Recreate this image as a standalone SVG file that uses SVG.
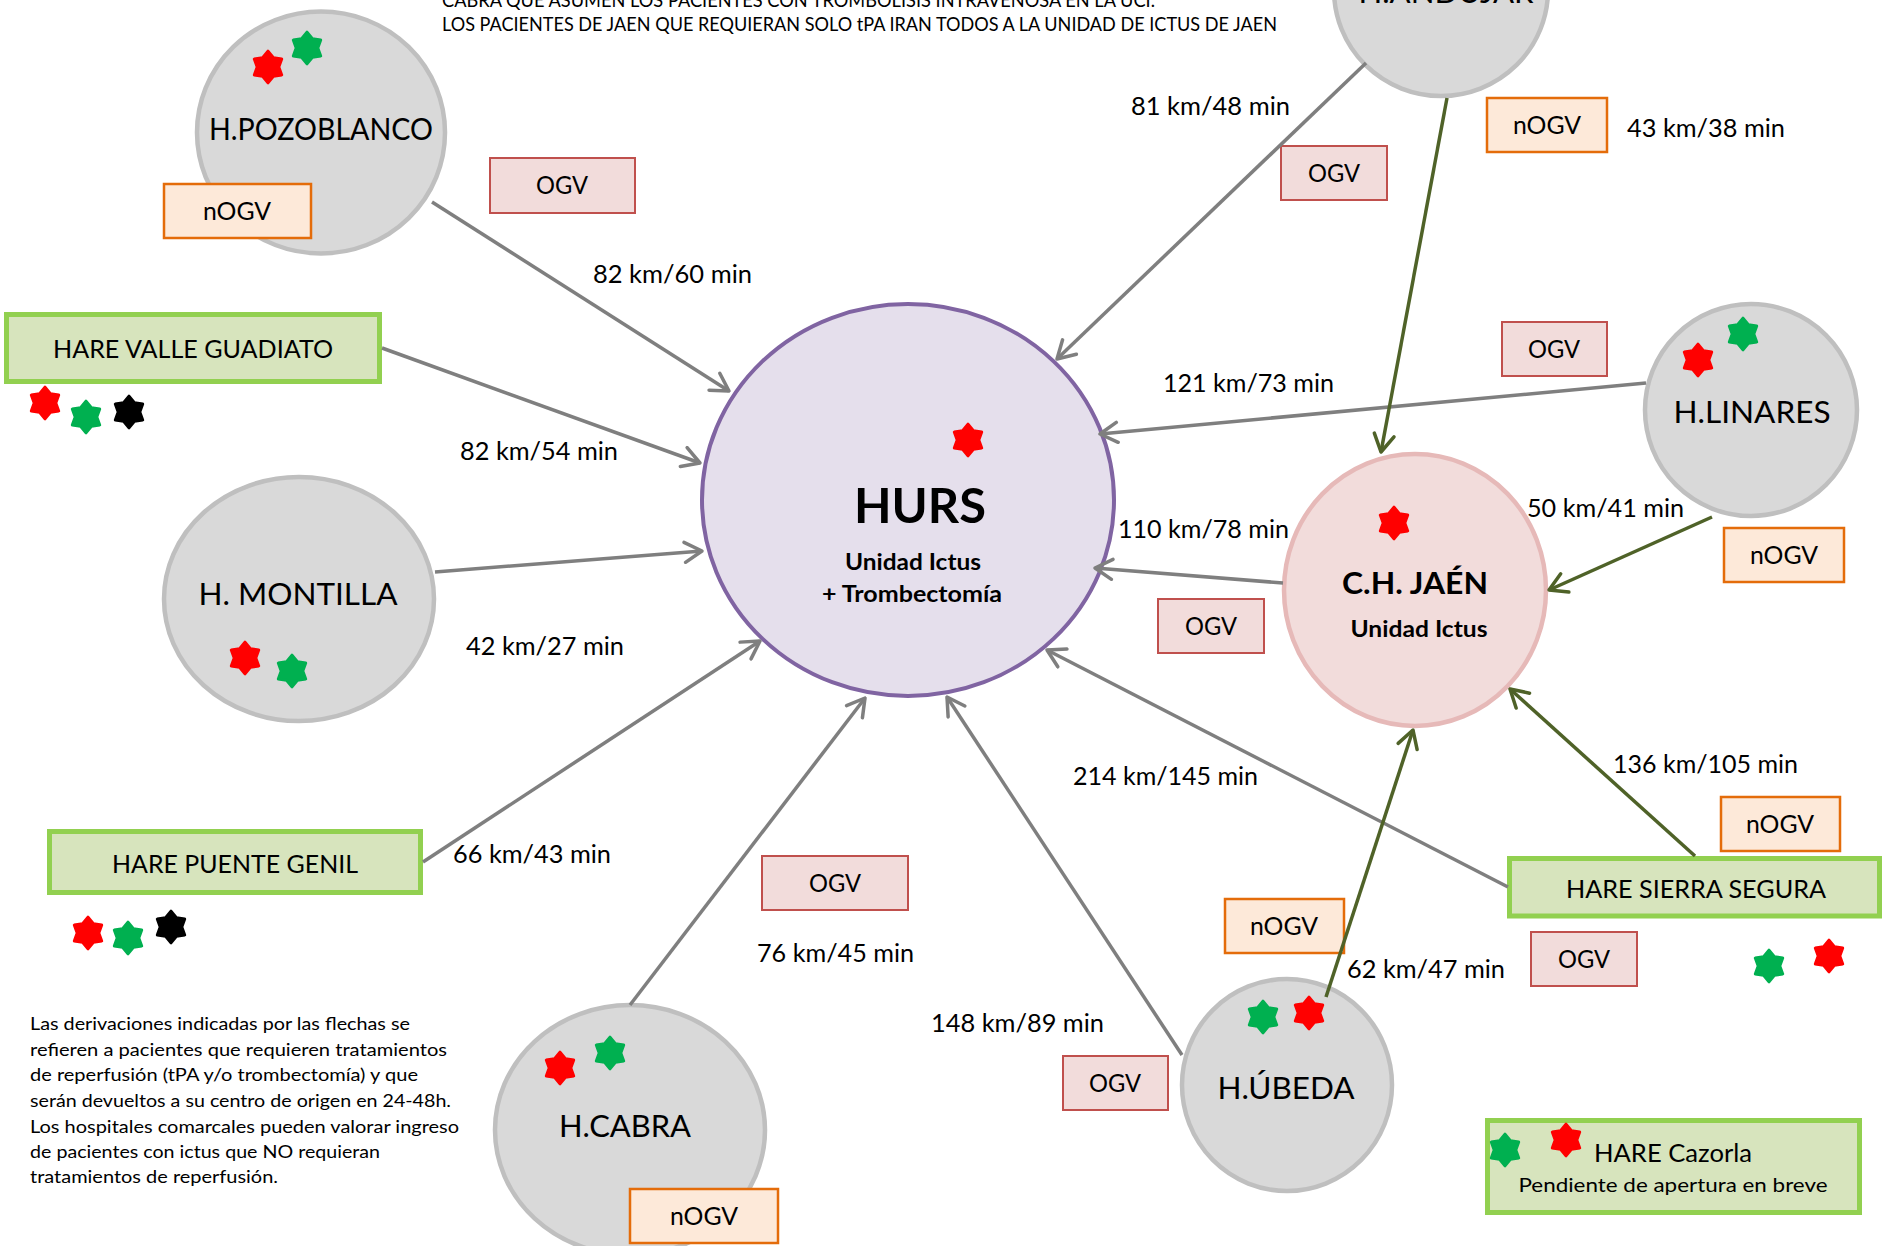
<svg xmlns="http://www.w3.org/2000/svg" xmlns:xlink="http://www.w3.org/1999/xlink" width="1883" height="1246" viewBox="0 0 1883 1246">
<defs>
<style>
.t{font-family:Lato,"Open Sans","Liberation Sans",sans-serif;fill:#000}
.m{text-anchor:middle}
.nm{font-size:30.5px}
.dist{font-size:25px}
.box{font-size:25px}
.hare{font-size:25.5px}
.note{font-size:17.5px}
.top{font-size:18.5px}
.bold{font-weight:bold}
.gray{fill:#d9d9d9;stroke:#bfbfbf;stroke-width:4.5}
.ogv{fill:#f2dcdb;stroke:#c0504d;stroke-width:2}
.nogv{fill:#fde9d9;stroke:#e46c0a;stroke-width:2.5}
.hr{fill:#d7e4bd;stroke:#92d050;stroke-width:5}
.cg{fill:none;stroke:#7f7f7f;stroke-width:3.5;marker-end:url(#ag)}
.cv{fill:none;stroke:#4f6228;stroke-width:3.5;marker-end:url(#av)}
.sr{fill:#ff0000;stroke:#ff0000}
.sg{fill:#00b050;stroke:#00b050}
.sk{fill:#000;stroke:#000}
</style>
<path id="star" stroke-width="3" stroke-linejoin="round" d="M0,-15.8 L5.4,-9.3 L13.7,-7.9 L10.8,0 L13.7,7.9 L5.4,9.3 L0,15.8 L-5.4,9.3 L-13.7,7.9 L-10.8,0 L-13.7,-7.9 L-5.4,-9.3 Z"/>
<marker id="ag" viewBox="0 0 24 24" refX="22" refY="12" markerWidth="24" markerHeight="24" markerUnits="userSpaceOnUse" orient="auto">
<path d="M4.7,2 L22,12 L4.7,22" fill="none" stroke="#7f7f7f" stroke-width="3.5" stroke-linecap="round" stroke-linejoin="round"/>
</marker>
<marker id="av" viewBox="0 0 24 24" refX="22" refY="12" markerWidth="24" markerHeight="24" markerUnits="userSpaceOnUse" orient="auto">
<path d="M4.7,2 L22,12 L4.7,22" fill="none" stroke="#4f6228" stroke-width="3.5" stroke-linecap="round" stroke-linejoin="round"/>
</marker>
</defs>
<rect x="0" y="0" width="1883" height="1246" fill="#ffffff"/>

<g id="header">
<text class="t top" x="442" y="7" textLength="713" lengthAdjust="spacingAndGlyphs">CABRA QUE ASUMEN LOS PACIENTES CON TROMBOLISIS INTRAVENOSA EN LA UCI.</text>
<text class="t top" x="442" y="31" textLength="835" lengthAdjust="spacingAndGlyphs">LOS PACIENTES DE JAEN QUE REQUIERAN SOLO tPA IRAN TODOS A LA UNIDAD DE ICTUS DE JAEN</text>
</g>

<g id="hurs">
<ellipse cx="908" cy="500" rx="206" ry="196" fill="#e5dfec" stroke="#8064a2" stroke-width="4"/>
<use href="#star" class="sr" x="968" y="440"/>
<text class="t m bold" x="920" y="523" font-size="48" textLength="132" lengthAdjust="spacingAndGlyphs">HURS</text>
<text class="t m bold" x="913" y="570" font-size="23.5" textLength="136" lengthAdjust="spacingAndGlyphs">Unidad Ictus</text>
<text class="t m bold" x="912" y="602" font-size="23.5" textLength="180" lengthAdjust="spacingAndGlyphs">+ Trombectomía</text>
</g>

<g id="chjaen">
<ellipse cx="1415" cy="590" rx="131" ry="136" fill="#f2dcdb" stroke="#e6b9b8" stroke-width="4.5"/>
<use href="#star" class="sr" x="1394" y="523"/>
<text class="t m bold" x="1415" y="594" font-size="31" textLength="146" lengthAdjust="spacingAndGlyphs">C.H. JAÉN</text>
<text class="t m bold" x="1419" y="637" font-size="23.5" textLength="137" lengthAdjust="spacingAndGlyphs">Unidad Ictus</text>
</g>

<g id="pozoblanco">
<ellipse class="gray" cx="321" cy="132.5" rx="124" ry="121"/>
<use href="#star" class="sr" x="268" y="67"/>
<use href="#star" class="sg" x="307" y="48"/>
<text class="t m nm" x="321" y="140" textLength="224" lengthAdjust="spacingAndGlyphs">H.POZOBLANCO</text>
</g>

<g id="andujar">
<ellipse class="gray" cx="1441" cy="-10" rx="107" ry="106"/>
<text class="t m nm" x="1446" y="3" textLength="175" lengthAdjust="spacingAndGlyphs">H.ANDÚJAR</text>
</g>

<g id="linares">
<ellipse class="gray" cx="1751" cy="410" rx="106" ry="106"/>
<use href="#star" class="sr" x="1698" y="360"/>
<use href="#star" class="sg" x="1743" y="334"/>
<text class="t m nm" x="1752" y="423" textLength="157" lengthAdjust="spacingAndGlyphs">H.LINARES</text>
</g>

<g id="montilla">
<ellipse class="gray" cx="299" cy="599" rx="135" ry="122"/>
<use href="#star" class="sr" x="245" y="658"/>
<use href="#star" class="sg" x="292" y="671"/>
<text class="t m nm" x="298" y="605" textLength="199" lengthAdjust="spacingAndGlyphs">H. MONTILLA</text>
</g>

<g id="cabra">
<ellipse class="gray" cx="630" cy="1130" rx="135" ry="125"/>
<use href="#star" class="sr" x="560" y="1068"/>
<use href="#star" class="sg" x="610" y="1053"/>
<text class="t m nm" x="625" y="1137" textLength="132" lengthAdjust="spacingAndGlyphs">H.CABRA</text>
</g>

<g id="ubeda">
<ellipse class="gray" cx="1287" cy="1085" rx="105" ry="106"/>
<use href="#star" class="sg" x="1263" y="1017"/>
<use href="#star" class="sr" x="1309" y="1013"/>
<text class="t m nm" x="1286" y="1099" textLength="137" lengthAdjust="spacingAndGlyphs">H.ÚBEDA</text>
</g>

<g id="valle-guadiato">
<rect class="hr" x="6.5" y="314.5" width="373" height="67"/>
<text class="t m hare" x="193" y="358" textLength="280" lengthAdjust="spacingAndGlyphs">HARE VALLE GUADIATO</text>
<use href="#star" class="sr" x="45" y="403"/>
<use href="#star" class="sg" x="86" y="417"/>
<use href="#star" class="sk" x="129" y="412"/>
</g>

<g id="puente-genil">
<rect class="hr" x="49.5" y="831.5" width="371" height="61"/>
<text class="t m hare" x="235" y="873" textLength="246" lengthAdjust="spacingAndGlyphs">HARE PUENTE GENIL</text>
<use href="#star" class="sr" x="88" y="933"/>
<use href="#star" class="sg" x="128" y="938"/>
<use href="#star" class="sk" x="171" y="927"/>
</g>

<g id="sierra-segura">
<rect class="hr" x="1509.5" y="858.5" width="370" height="57.5"/>
<text class="t m hare" x="1696" y="898" textLength="260" lengthAdjust="spacingAndGlyphs">HARE SIERRA SEGURA</text>
<use href="#star" class="sg" x="1769" y="966"/>
<use href="#star" class="sr" x="1829" y="956"/>
</g>

<g id="cazorla">
<rect class="hr" x="1487.5" y="1120.5" width="372" height="92"/>
<use href="#star" class="sg" x="1505" y="1150"/>
<use href="#star" class="sr" x="1566" y="1140"/>
<text class="t hare" x="1594" y="1162" textLength="158" lengthAdjust="spacingAndGlyphs">HARE Cazorla</text>
<text class="t m" x="1673" y="1192" font-size="20" textLength="309" lengthAdjust="spacingAndGlyphs">Pendiente de apertura en breve</text>
</g>

<g id="ogv-labels">
<rect class="ogv" x="490" y="158" width="145" height="55"/>
<text class="t m box" x="562" y="194" textLength="52" lengthAdjust="spacingAndGlyphs">OGV</text>
<rect class="ogv" x="1281" y="146" width="106" height="54"/>
<text class="t m box" x="1334" y="182" textLength="52" lengthAdjust="spacingAndGlyphs">OGV</text>
<rect class="ogv" x="1502" y="322" width="105" height="54"/>
<text class="t m box" x="1554" y="358" textLength="52" lengthAdjust="spacingAndGlyphs">OGV</text>
<rect class="ogv" x="1158" y="599" width="106" height="54"/>
<text class="t m box" x="1211" y="635" textLength="52" lengthAdjust="spacingAndGlyphs">OGV</text>
<rect class="ogv" x="762" y="856" width="146" height="54"/>
<text class="t m box" x="835" y="892" textLength="52" lengthAdjust="spacingAndGlyphs">OGV</text>
<rect class="ogv" x="1063" y="1056" width="105" height="54"/>
<text class="t m box" x="1115" y="1092" textLength="52" lengthAdjust="spacingAndGlyphs">OGV</text>
<rect class="ogv" x="1531" y="932" width="106" height="54"/>
<text class="t m box" x="1584" y="968" textLength="52" lengthAdjust="spacingAndGlyphs">OGV</text>
</g>

<g id="nogv-labels">
<rect class="nogv" x="164" y="184" width="147" height="54"/>
<text class="t m box" x="237" y="220" textLength="68" lengthAdjust="spacingAndGlyphs">nOGV</text>
<rect class="nogv" x="1487" y="98" width="120" height="54"/>
<text class="t m box" x="1547" y="134" textLength="68" lengthAdjust="spacingAndGlyphs">nOGV</text>
<rect class="nogv" x="1724" y="528" width="120" height="54"/>
<text class="t m box" x="1784" y="564" textLength="68" lengthAdjust="spacingAndGlyphs">nOGV</text>
<rect class="nogv" x="1225" y="899" width="119" height="54"/>
<text class="t m box" x="1284" y="935" textLength="68" lengthAdjust="spacingAndGlyphs">nOGV</text>
<rect class="nogv" x="1721" y="797" width="119" height="54"/>
<text class="t m box" x="1780" y="833" textLength="68" lengthAdjust="spacingAndGlyphs">nOGV</text>
<rect class="nogv" x="630" y="1189" width="148" height="54"/>
<text class="t m box" x="704" y="1225" textLength="68" lengthAdjust="spacingAndGlyphs">nOGV</text>
</g>

<g id="connectors">
<line class="cg" x1="432" y1="202" x2="729" y2="391"/>
<line class="cg" x1="382" y1="348" x2="700" y2="463"/>
<line class="cg" x1="435" y1="572" x2="702" y2="551"/>
<line class="cg" x1="423" y1="862" x2="760" y2="641"/>
<line class="cg" x1="630" y1="1005" x2="865" y2="698"/>
<line class="cg" x1="1182" y1="1055" x2="947" y2="697"/>
<line class="cg" x1="1508" y1="887" x2="1047" y2="650"/>
<line class="cg" x1="1283" y1="583" x2="1095" y2="568"/>
<line class="cg" x1="1646" y1="383" x2="1100" y2="434"/>
<line class="cg" x1="1366" y1="63" x2="1057" y2="359"/>
<line class="cv" x1="1447" y1="98" x2="1381" y2="452"/>
<line class="cv" x1="1712" y1="517" x2="1549" y2="590"/>
<line class="cv" x1="1326" y1="997" x2="1413" y2="730"/>
<line class="cv" x1="1695" y1="856" x2="1510" y2="689"/>
</g>

<g id="distances">
<text class="t dist" x="593" y="283" textLength="159" lengthAdjust="spacingAndGlyphs">82 km/60 min</text>
<text class="t dist" x="460" y="460" textLength="158" lengthAdjust="spacingAndGlyphs">82 km/54 min</text>
<text class="t dist" x="466" y="655" textLength="158" lengthAdjust="spacingAndGlyphs">42 km/27 min</text>
<text class="t dist" x="453" y="863" textLength="158" lengthAdjust="spacingAndGlyphs">66 km/43 min</text>
<text class="t dist" x="757" y="962" textLength="157" lengthAdjust="spacingAndGlyphs">76 km/45 min</text>
<text class="t dist" x="931" y="1032" textLength="173" lengthAdjust="spacingAndGlyphs">148 km/89 min</text>
<text class="t dist" x="1073" y="785" textLength="185" lengthAdjust="spacingAndGlyphs">214 km/145 min</text>
<text class="t dist" x="1347" y="978" textLength="158" lengthAdjust="spacingAndGlyphs">62 km/47 min</text>
<text class="t dist" x="1613" y="773" textLength="185" lengthAdjust="spacingAndGlyphs">136 km/105 min</text>
<text class="t dist" x="1118" y="538" textLength="171" lengthAdjust="spacingAndGlyphs">110 km/78 min</text>
<text class="t dist" x="1163" y="392" textLength="171" lengthAdjust="spacingAndGlyphs">121 km/73 min</text>
<text class="t dist" x="1527" y="517" textLength="157" lengthAdjust="spacingAndGlyphs">50 km/41 min</text>
<text class="t dist" x="1131" y="115" textLength="159" lengthAdjust="spacingAndGlyphs">81 km/48 min</text>
<text class="t dist" x="1627" y="137" textLength="158" lengthAdjust="spacingAndGlyphs">43 km/38 min</text>
</g>

<g id="note">
<text class="t note" x="30" y="1030" textLength="380" lengthAdjust="spacingAndGlyphs">Las derivaciones indicadas por las flechas se</text>
<text class="t note" x="30" y="1055.5" textLength="417" lengthAdjust="spacingAndGlyphs">refieren a pacientes que requieren tratamientos</text>
<text class="t note" x="30" y="1081" textLength="388" lengthAdjust="spacingAndGlyphs">de reperfusión (tPA y/o trombectomía) y que</text>
<text class="t note" x="30" y="1107" textLength="421" lengthAdjust="spacingAndGlyphs">serán devueltos a su centro de origen en 24-48h.</text>
<text class="t note" x="30" y="1133" textLength="429" lengthAdjust="spacingAndGlyphs">Los hospitales comarcales pueden valorar ingreso</text>
<text class="t note" x="30" y="1158" textLength="350" lengthAdjust="spacingAndGlyphs">de pacientes con ictus que NO requieran</text>
<text class="t note" x="30" y="1183" textLength="248" lengthAdjust="spacingAndGlyphs">tratamientos de reperfusión.</text>
</g>
</svg>
